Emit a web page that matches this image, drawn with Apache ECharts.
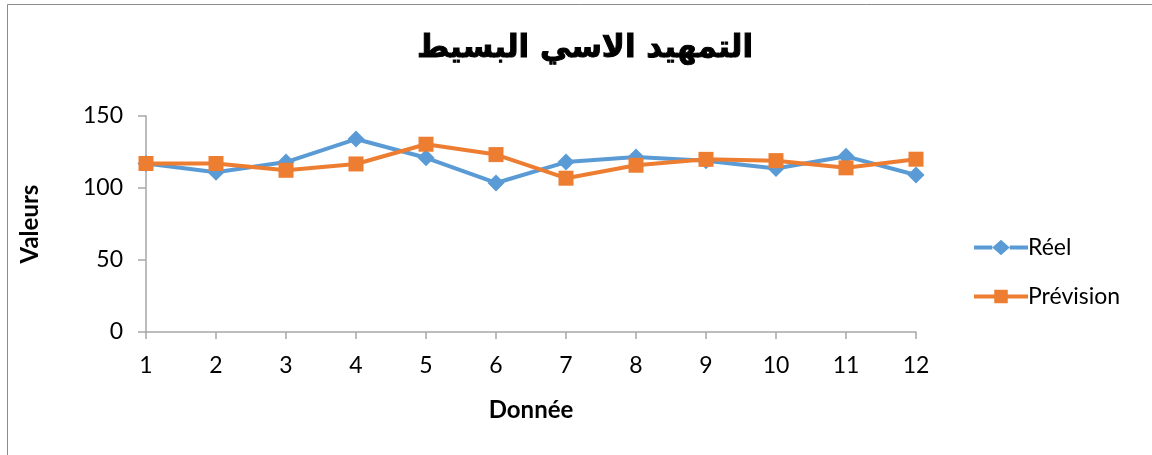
<!DOCTYPE html>
<html>
<head>
<meta charset="utf-8">
<script src="https://cdn.jsdelivr.net/npm/echarts@6/dist/echarts.min.js"></script>
<style>
  html, body { margin: 0; padding: 0; background: #ffffff; }
  #chart { width: 1152px; height: 455px; }
</style>
</head>
<body>
<div id="chart"></div>
<script>
// Periods 1..12
const periods = ['1', '2', '3', '4', '5', '6', '7', '8', '9', '10', '11', '12'];
// Observed values
const reel = [117, 111, 118, 134, 121, 103.5, 118, 121.5, 119, 113.5, 122, 109];
// Smoothed forecast
const prevision = [117, 117, 112.3, 116.7, 130.4, 123.2, 106.8, 115.8, 119.9, 119, 114, 120];
// Value axis ticks
const yTicks = [0, 50, 100, 150];

const font = 'Lato, "Open Sans", sans-serif';
const blue = '#5B9BD5';
const orange = '#ED7D31';
const axisGray = '#a6a6a6';

// Legend keys: a line segment with the series marker in its middle
const keyDiamond = 'path://M0,6 L19,6 L19,10 L0,10 Z M19,8 L28,0 L37,8 L28,16 Z M37,6 L56,6 L56,10 L37,10 Z';
const keySquare = 'path://M0,6 L21,6 L21,10 L0,10 Z M21,1 L35,1 L35,15 L21,15 Z M35,6 L56,6 L56,10 L35,10 Z';

const chart = echarts.init(document.getElementById('chart'), null, { renderer: 'canvas' });

chart.setOption({
  animation: false,
  backgroundColor: '#ffffff',
  title: {
    text: 'التمهيد الاسي البسيط',
    left: 580,
    textAlign: 'center',
    top: 28,
    textStyle: {
      fontFamily: '"DejaVu Sans", sans-serif',
      fontWeight: 'bold',
      fontSize: 31,
      color: '#000000',
      textBorderColor: '#000000',
      textBorderWidth: 1
    }
  },
  graphic: [{
    type: 'rect',
    shape: { x: 7.5, y: 4.5, width: 1160, height: 470 },
    style: { fill: 'none', stroke: '#8c8c8c', lineWidth: 1 },
    silent: true
  }],
  legend: {
    orient: 'vertical',
    left: 969,
    top: 231,
    itemGap: 26,
    itemWidth: 54,
    itemHeight: 17,
    textStyle: { fontFamily: font, fontSize: 23, color: '#000000', padding: [0, 0, 0, -5] },
    data: [
      { name: 'Réel', icon: keyDiamond },
      { name: 'Prévision', icon: keySquare }
    ]
  },
  grid: { left: 146, right: 236, top: 116, bottom: 123 },
  xAxis: {
    type: 'category',
    data: periods,
    boundaryGap: false,
    name: 'Donnée',
    nameLocation: 'middle',
    nameGap: 66,
    nameTextStyle: { fontFamily: font, fontWeight: 'bold', fontSize: 24, color: '#000000' },
    axisLine: { lineStyle: { color: axisGray, width: 1.5 } },
    axisTick: { show: true, length: 7, alignWithLabel: true, lineStyle: { color: axisGray, width: 1.5 } },
    axisLabel: { fontFamily: font, fontSize: 23, color: '#000000', margin: 22 },
    splitLine: { show: false }
  },
  yAxis: {
    type: 'value',
    min: 0,
    max: 150,
    interval: 50,
    name: 'Valeurs',
    nameLocation: 'middle',
    nameGap: 104,
    nameRotate: 90,
    nameTextStyle: { fontFamily: font, fontWeight: 'bold', fontSize: 24, color: '#000000' },
    axisLine: { show: true, lineStyle: { color: axisGray, width: 1.5 } },
    axisTick: { show: true, length: 8, lineStyle: { color: axisGray, width: 1.5 } },
    axisLabel: {
      fontFamily: font, fontSize: 23, color: '#000000', margin: 23,
      formatter: v => (yTicks.indexOf(v) >= 0 ? String(v) : '')
    },
    splitLine: { show: false }
  },
  series: [
    {
      name: 'Réel',
      type: 'line',
      data: reel,
      symbol: 'diamond',
      symbolSize: 17,
      lineStyle: { color: blue, width: 4 },
      itemStyle: { color: blue },
      z: 2
    },
    {
      name: 'Prévision',
      type: 'line',
      data: prevision,
      symbol: 'rect',
      symbolSize: 15,
      lineStyle: { color: orange, width: 4 },
      itemStyle: { color: orange },
      z: 3
    }
  ]
});
</script>
</body>
</html>
